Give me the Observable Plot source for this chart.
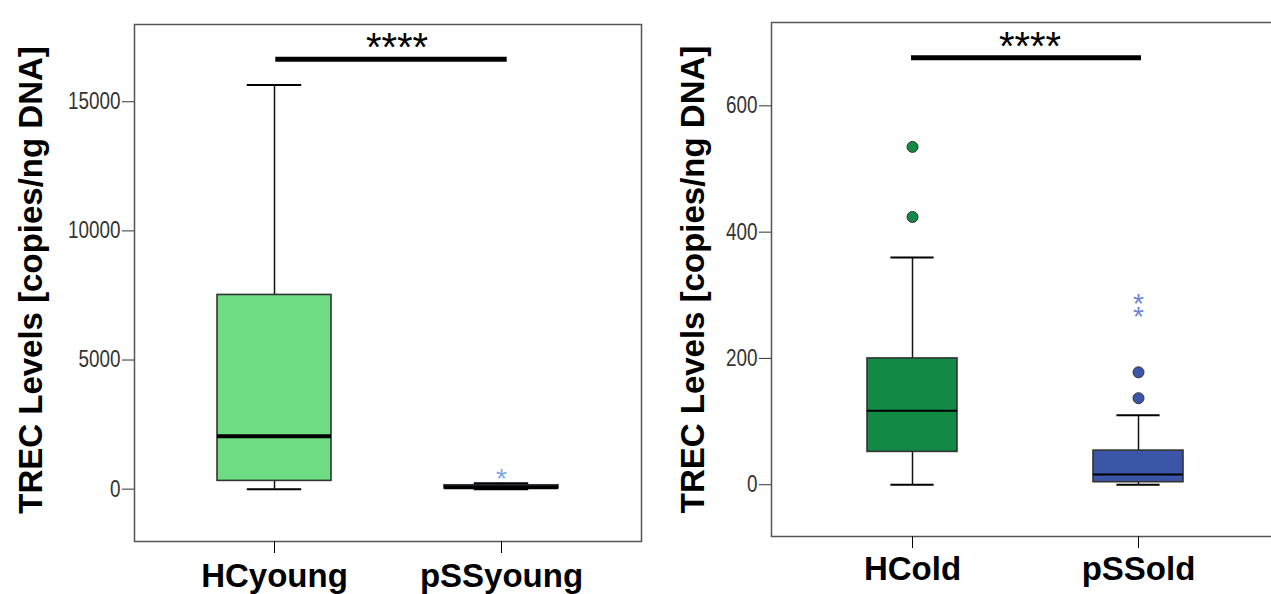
<!DOCTYPE html>
<html><head><meta charset="utf-8">
<script src="https://cdn.jsdelivr.net/npm/d3@7"></script>
<script src="https://cdn.jsdelivr.net/npm/@observablehq/plot@0.6"></script>
<style>
html,body{margin:0;padding:0;background:#fff;overflow:hidden;width:1271px;height:594px;}
#wrap{position:relative;width:1271px;height:594px;overflow:hidden;}
#left,#right{position:absolute;top:0;}
#left{left:0;width:642px;}
#right{left:642px;width:640px;}
g[aria-label="y-axis tick label"]{font-family:"Liberation Sans",Arial,sans-serif;}
g[aria-label="x-axis tick label"]{font-family:"Liberation Sans",Arial,sans-serif;font-weight:bold;}
</style></head><body>
<div id="wrap"><div id="left"></div><div id="right"></div></div>
<script>
// ---- Young panel ----
const groupsYoung = ["HCyoung", "pSSyoung"];
const minYoung = [0, 0];
const q1Young = [320, 30];
const medianYoung = [2050, 70];
const q3Young = [7520, 150];
const maxYoung = [15650, 230];
const extremeYoungGroup = ["pSSyoung"];
const extremeYoungValue = [650];
const ticksYoung = [0, 5000, 10000, 15000];
const sigYoung = 16650;

// ---- Old panel ----
const groupsOld = ["HCold", "pSSold"];
const minOld = [0, 0];
const q1Old = [52, 4];
const medianOld = [117, 16];
const q3Old = [200, 54];
const maxOld = [360, 110];
const outlierOldGroup = ["HCold", "HCold", "pSSold", "pSSold"];
const outlierOldValue = [535, 424, 178, 137];
const extremeOldGroup = ["pSSold", "pSSold"];
const extremeOldValue = [297, 277];
const ticksOld = [0, 200, 400, 600];
const sigOld = 676;

const yLabel = "TREC Levels [copies/ng DNA]";
const sigText = "****";

function panel(cfg) {
  const rows = cfg.groups.map((g, i) => ({
    group: g, min: cfg.mins[i], q1: cfg.q1s[i], median: cfg.meds[i],
    q3: cfg.q3s[i], max: cfg.maxs[i], fill: cfg.fills[i]
  }));
  const outs = (cfg.outG || []).map((g, i) => ({group: g, value: cfg.outV[i], fill: cfg.outFills[cfg.groups.indexOf(g)]}));
  const exts = (cfg.extG || []).map((g, i) => ({group: g, value: cfg.extV[i]}));
  const W = cfg.width - cfg.marginLeft - cfg.marginRight;
  const step = W / (2 - cfg.pi + 2 * cfg.po);
  const bw = step * (1 - cfg.pi);
  const svg = Plot.plot({
    width: cfg.width,
    height: 594,
    marginLeft: cfg.marginLeft,
    marginRight: cfg.marginRight,
    marginTop: cfg.marginTop,
    marginBottom: cfg.marginBottom,
    style: {fontFamily: "'Liberation Sans', Arial, sans-serif", background: "transparent", maxWidth: "none", overflow: "visible"},
    x: {type: "band", domain: cfg.groups, paddingInner: cfg.pi, paddingOuter: cfg.po},
    y: {domain: cfg.yDomain},
    color: {type: "identity"},
    marks: [
      Plot.ruleX(rows, {x: "group", y1: "q3", y2: "max", stroke: "#111", strokeWidth: 1.5}),
      Plot.ruleX(rows, {x: "group", y1: "q1", y2: "min", stroke: "#111", strokeWidth: 1.5}),
      Plot.barY(rows, {x: "group", y1: "q1", y2: "q3", fill: "fill", stroke: "#333", strokeWidth: 1.6}),
      Plot.tickY(rows, {x: "group", y: "median", stroke: "#000", strokeWidth: cfg.medianWidth}),
      Plot.tickY(rows, {x: "group", y: "max", stroke: "#000", strokeWidth: cfg.capWidth, inset: bw * 0.26}),
      Plot.tickY(rows, {x: "group", y: "min", stroke: "#000", strokeWidth: cfg.capWidth, inset: bw * 0.26}),
      Plot.dot(outs, {x: "group", y: "value", r: 5.5, fill: "fill", stroke: "#333", strokeWidth: 1}),
      Plot.text(exts, {x: "group", y: "value", text: () => "*", fontSize: 28, dy: 7, fill: cfg.extColor}),
      Plot.ruleY([cfg.sig], {y: (d) => d, x1: () => cfg.groups[0], x2: () => cfg.groups[1], insetLeft: bw / 2 + cfg.sigL, insetRight: bw / 2 - cfg.sigR, stroke: "#000", strokeWidth: 5}),
      Plot.text([cfg.sig], {y: (d) => d, text: () => sigText, fontSize: 40, dx: cfg.starDx, dy: -11, fill: "#000"}),
      Plot.frame({stroke: "#555", strokeWidth: 1.5}),
      Plot.axisY({ticks: cfg.yTicks, tickFormat: d3.format("d"), tickSize: 12, tickPadding: 2, fontSize: 23, label: null, color: "#333"}),
      Plot.axisX({tickSize: 12, tickPadding: cfg.xPad, fontSize: 33, fontWeight: "bold", label: null, color: "#000"}),
      Plot.text([yLabel], {frameAnchor: "left", text: (d) => d, rotate: -90, textAnchor: "middle", lineAnchor: "top", dx: cfg.labelDx, dy: cfg.labelDy, fontSize: 33, fontWeight: "bold", fill: "#000"})
    ]
  });
  // narrow the tick-label glyphs (Arial Narrow look) around their right-hand anchor
  svg.querySelectorAll('g[aria-label="y-axis tick label"] text').forEach((t) => {
    const tr = t.getAttribute("transform") || "";
    t.setAttribute("transform", tr + " scale(0.82,1)");
  });
  return svg;
}

document.getElementById("left").append(panel({
  groups: groupsYoung, mins: minYoung, q1s: q1Young, meds: medianYoung, q3s: q3Young, maxs: maxYoung,
  extG: extremeYoungGroup, extV: extremeYoungValue, extColor: "#7ea8e0",
  fills: ["#6edc82", "#7ea8e0"], outFills: ["#6edc82", "#7ea8e0"],
  sig: sigYoung, yDomain: [-2027, 17992], yTicks: ticksYoung,
  width: 642, marginLeft: 134, marginRight: 1, marginTop: 24, marginBottom: 53,
  pi: 0.4965, po: 0.362, medianWidth: 4, capWidth: 2, starDx: 9, xPad: 10, labelDx: -116, labelDy: -3,
  sigL: 1, sigR: 6
}));

document.getElementById("right").append(panel({
  groups: groupsOld, mins: minOld, q1s: q1Old, meds: medianOld, q3s: q3Old, maxs: maxOld,
  outG: outlierOldGroup, outV: outlierOldValue, outFills: ["#128a46", "#3b56a9"],
  extG: extremeOldGroup, extV: extremeOldValue, extColor: "#6b85d4",
  fills: ["#128a46", "#3b56a9"],
  sig: sigOld, yDomain: [-82, 732], yTicks: ticksOld,
  width: 636, marginLeft: 129, marginRight: 0, marginTop: 22, marginBottom: 58,
  pi: 0.6035, po: 0.4185, medianWidth: 2, capWidth: 2, starDx: 5, xPad: 8, labelDx: -91, labelDy: 0,
  sigL: -1, sigR: 3
}));
</script>
</body></html>
